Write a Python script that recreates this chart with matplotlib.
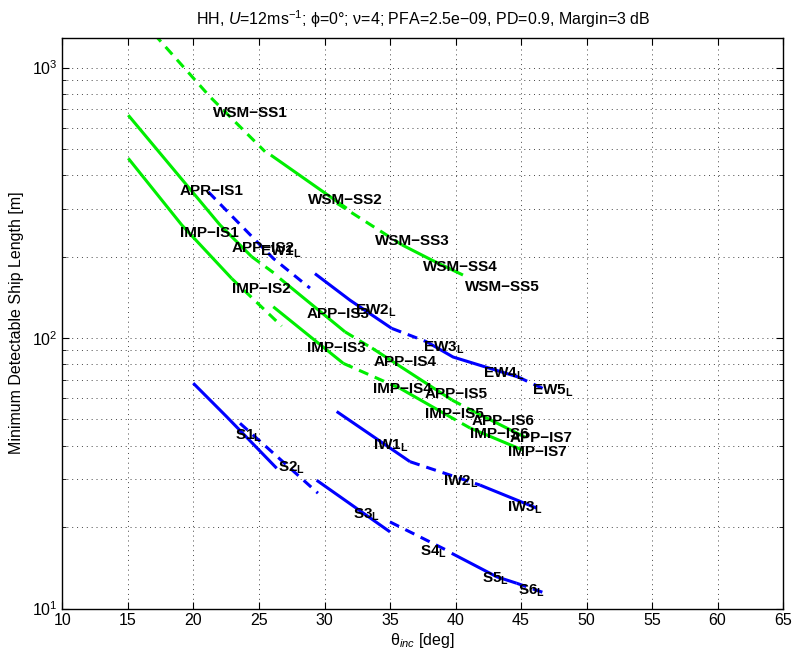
import matplotlib
matplotlib.use("Agg")
import matplotlib.pyplot as plt
from matplotlib.ticker import LogLocator, NullFormatter

GREEN = "#00ee00"
BLUE = "#0000ff"

plt.rcParams.update({
    "font.family": "Liberation Sans",
    "font.size": 11,
    "mathtext.fontset": "custom",
    "mathtext.rm": "Liberation Sans",
    "mathtext.it": "Liberation Sans:italic",
    "mathtext.bf": "Liberation Sans:bold",
})

# ---- curves: incidence angle [deg] / min ship length [m]
# WSM (green)
wsm_ss1_th = [17.0, 21.26, 25.46]
wsm_ss1_len = [1330, 780, 489]
wsm_ss2_th = [25.9, 31.69]
wsm_ss2_len = [475, 302]
wsm_ss3_th = [30.95, 35.92]
wsm_ss3_len = [315, 221]
wsm_ss4_th = [35.92, 38.21, 40.57]
wsm_ss4_len = [221, 194, 171]

# APP (green)
app_is1_th = [15.02, 22.02, 24.44]
app_is1_len = [667, 262, 200]
app_is1d_th = [24.44, 26.35]
app_is1d_len = [200, 171]
app_is2_th = [26.60, 31.56]
app_is2_len = [166, 105.5]
app_is2d_th = [31.56, 33.85]
app_is2d_len = [105.5, 90.3]
app_is4_th = [33.63, 39.73]
app_is4_len = [91.8, 59.0]
app_is4d_th = [39.73, 41.49]
app_is4d_len = [59.0, 53.2]
app_is6_th = [41.49, 45.31]
app_is6_len = [53.2, 43.0]

# IMP (green)
imp_is1_th = [15.02, 19.10, 22.92]
imp_is1_len = [462, 262, 166]
imp_is1d_th = [22.92, 26.73]
imp_is1d_len = [166, 110.7]
imp_is2_th = [26.09, 31.44]
imp_is2_len = [130.5, 80.6]
imp_is2d_th = [31.44, 35.76]
imp_is2d_len = [80.6, 65.2]
imp_is4_th = [35.76, 39.35]
imp_is4_len = [65.2, 51.9]
imp_is4d_th = [39.35, 41.11]
imp_is4d_len = [51.9, 46.5]
imp_is6_th = [41.11, 45.15]
imp_is6_len = [46.5, 38.5]

# EW (blue)
ew1_th = [21.13, 26.09, 28.89]
ew1_len = [347, 197, 153]
ew2_th = [29.27, 31.95, 35.13]
ew2_len = [173, 138, 108.6]
ew2d_th = [35.13, 37.80]
ew2d_len = [108.6, 96.9]
ew4_th = [37.80, 39.81, 44.77]
ew4_len = [96.9, 85.1, 71.8]
ew5_th = [44.77, 46.91]
ew5_len = [71.8, 64.3]

# IW (blue)
iw1_th = [30.93, 36.53]
iw1_len = [53.5, 34.9]
iw2_th = [36.53, 41.87]
iw2_len = [34.9, 28.6]
iw3_th = [41.87, 46.20]
iw3_len = [28.6, 23.5]

# S (blue)
s1_th = [19.98, 22.53, 26.35]
s1_len = [68.1, 51.2, 33.0]
s2_th = [23.55, 29.50]
s2_len = [48.4, 26.7]
s3_th = [29.40, 35.0]
s3_len = [29.8, 19.2]
s4_th = [35.0, 39.35]
s4_len = [20.9, 16.4]
s5_th = [39.71, 43.15, 44.67]
s5_len = [16.0, 13.1, 12.4]
s6_th = [44.67, 46.83]
s6_len = [12.4, 11.4]

segments = [
    (wsm_ss1_th, wsm_ss1_len, GREEN, "--"),
    (wsm_ss2_th, wsm_ss2_len, GREEN, "-"),
    (wsm_ss3_th, wsm_ss3_len, GREEN, "--"),
    (wsm_ss4_th, wsm_ss4_len, GREEN, "-"),
    (app_is1_th, app_is1_len, GREEN, "-"),
    (app_is1d_th, app_is1d_len, GREEN, "--"),
    (app_is2_th, app_is2_len, GREEN, "-"),
    (app_is2d_th, app_is2d_len, GREEN, "--"),
    (app_is4_th, app_is4_len, GREEN, "-"),
    (app_is4d_th, app_is4d_len, GREEN, "--"),
    (app_is6_th, app_is6_len, GREEN, "-"),
    (imp_is1_th, imp_is1_len, GREEN, "-"),
    (imp_is1d_th, imp_is1d_len, GREEN, "--"),
    (imp_is2_th, imp_is2_len, GREEN, "-"),
    (imp_is2d_th, imp_is2d_len, GREEN, "--"),
    (imp_is4_th, imp_is4_len, GREEN, "-"),
    (imp_is4d_th, imp_is4d_len, GREEN, "--"),
    (imp_is6_th, imp_is6_len, GREEN, "-"),
    (ew1_th, ew1_len, BLUE, "--"),
    (ew2_th, ew2_len, BLUE, "-"),
    (ew2d_th, ew2d_len, BLUE, "--"),
    (ew4_th, ew4_len, BLUE, "-"),
    (ew5_th, ew5_len, BLUE, "--"),
    (iw1_th, iw1_len, BLUE, "-"),
    (iw2_th, iw2_len, BLUE, "--"),
    (iw3_th, iw3_len, BLUE, "-"),
    (s1_th, s1_len, BLUE, "-"),
    (s2_th, s2_len, BLUE, "--"),
    (s3_th, s3_len, BLUE, "-"),
    (s4_th, s4_len, BLUE, "--"),
    (s5_th, s5_len, BLUE, "-"),
    (s6_th, s6_len, BLUE, "--"),
]

# mode labels: text, angle, length (visual centre of the main text)
label_text = ["WSM\u2212SS1", "APR\u2212IS1", "WSM\u2212SS2", "IMP\u2212IS1", "APP\u2212IS2",
              r"$\mathbf{EW1}_{\mathbf{L}}$", "IMP\u2212IS2", "APP\u2212IS3",
              r"$\mathbf{EW2}_{\mathbf{L}}$", "IMP\u2212IS3", "WSM\u2212SS3", "WSM\u2212SS4",
              "WSM\u2212SS5", r"$\mathbf{EW3}_{\mathbf{L}}$", "APP\u2212IS4",
              r"$\mathbf{EW4}_{\mathbf{L}}$", r"$\mathbf{EW5}_{\mathbf{L}}$", "IMP\u2212IS4",
              "APP\u2212IS5", "IMP\u2212IS5", "APP\u2212IS6", "IMP\u2212IS6", "APP\u2212IS7",
              "IMP\u2212IS7", r"$\mathbf{IW1}_{\mathbf{L}}$", r"$\mathbf{IW2}_{\mathbf{L}}$",
              r"$\mathbf{IW3}_{\mathbf{L}}$", r"$\mathbf{S1}_{\mathbf{L}}$",
              r"$\mathbf{S2}_{\mathbf{L}}$", r"$\mathbf{S3}_{\mathbf{L}}$",
              r"$\mathbf{S4}_{\mathbf{L}}$", r"$\mathbf{S5}_{\mathbf{L}}$",
              r"$\mathbf{S6}_{\mathbf{L}}$"]
label_th = [21.49, 18.97, 28.76, 18.97, 22.92, 25.08, 22.92, 28.64, 32.33, 28.64,
            33.85, 37.54, 40.73, 37.54, 33.73, 42.12, 45.82, 33.73, 37.67, 37.67,
            41.24, 41.11, 44.16, 44.03, 33.73, 39.07, 43.91, 23.17, 26.47, 32.20,
            37.29, 42.0, 44.79]
label_len = [687, 352, 326, 247, 218, 211, 153, 123.4, 127, 92.9,
             230, 184, 156, 92.9, 82.2, 74.7, 64.3, 65.5, 62.5, 52.7,
             49.8, 44.4, 43.2, 38.2, 40.2, 29.8, 23.9, 44.1, 33.6, 22.5,
             16.4, 13.0, 11.7]

fig = plt.figure(figsize=(7.96, 6.52), dpi=100)
ax = fig.add_axes([0.0785, 0.0667, 0.9052, 0.8755])

for th, ln, col, ls in segments:
    line, = ax.plot(th, ln, color=col, lw=2.2, ls=ls, solid_capstyle="butt")
    if ls == "--":
        line.set_dashes((3.3, 2.3))

for txt, th, ln in zip(label_text, label_th, label_len):
    ax.annotate(txt, (th, ln), xytext=(0, -3.6), textcoords="offset points",
                ha="left", va="baseline", fontsize=11, fontweight="bold")

ax.set_yscale("log")
ax.set_xlim(10, 65)
ax.set_ylim(10, 1290)
ax.set_xticks(range(10, 70, 5))
ax.yaxis.set_major_locator(LogLocator(base=10))
ax.yaxis.set_minor_locator(LogLocator(base=10, subs=range(2, 10)))
ax.yaxis.set_minor_formatter(NullFormatter())

ax.grid(True, which="major", ls=(0, (1, 4)), color="#444444", lw=0.7)
ax.yaxis.grid(True, which="minor", ls=(0, (1, 4)), color="#444444", lw=0.7)
ax.tick_params(which="both", direction="in", top=True, right=True, labelsize=11.5)
ax.tick_params(which="major", length=5)
ax.tick_params(which="minor", length=3)
for sp in ax.spines.values():
    sp.set_linewidth(1.0)

ax.set_title("HH, $U$=12ms$^{-1}$; \u03d5=0\u00b0; \u03bd=4; PFA=2.5e\u221209, PD=0.9, Margin=3 dB",
             fontsize=11.5, pad=9)
ax.set_xlabel("\u03b8$_{inc}$ [deg]", labelpad=2, fontsize=11.5)
ax.set_ylabel("Minimum Detectable Ship Length [m]", labelpad=6, fontsize=11.5)

fig.savefig("out.png", dpi=100)
